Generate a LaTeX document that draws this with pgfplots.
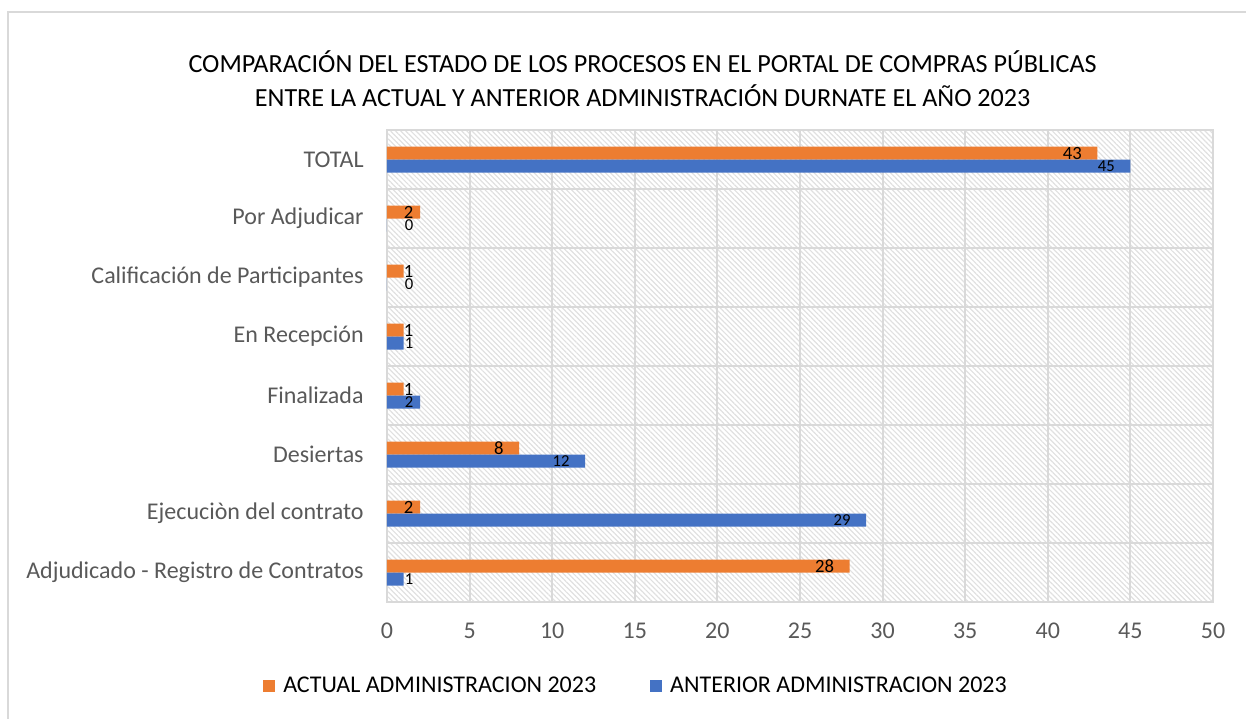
\documentclass[border=0pt]{standalone}
\usepackage{pgfplots}
\pgfplotsset{compat=1.18}
\usepackage{fontspec}
\setmainfont{Carlito}
\usetikzlibrary{patterns.meta}
\definecolor{orng}{HTML}{ED7D31}
\definecolor{blu}{HTML}{4472C4}
\definecolor{grd}{HTML}{D9D9D9}
\definecolor{txt}{HTML}{595959}
\begin{document}
\begin{tikzpicture}
\useasboundingbox (0,0) rectangle (934.5pt,-538.5pt);
\draw[grd, line width=1.5pt] (6pt,-545pt) -- (6pt,-9pt) -- (940pt,-9pt);
\node[font=\fontsize{19.6}{25.5}\selectfont, align=center, text=black] at (482pt,-59pt)
 {COMPARACIÓN DEL ESTADO DE LOS PROCESOS EN EL PORTAL DE COMPRAS PÚBLICAS\\ENTRE LA ACTUAL Y ANTERIOR ADMINISTRACIÓN DURNATE EL AÑO 2023};
\begin{axis}[
 at={(290.25pt,-451.5pt)}, anchor=south west,
 scale only axis, width=619.5pt, height=354pt,
 xbar, bar width=9.75pt,
 xmin=0, xmax=50, ymin=-0.5, ymax=7.5,
 xtick={0,5,...,50},
 ytick={0,...,7},
 yticklabels={Adjudicado - Registro de Contratos, Ejecuciòn del contrato, Desiertas, Finalizada, En Recepción, Calificación de Participantes, Por Adjudicar, TOTAL},
 minor ytick={-0.5,0.5,...,7.5},
 yminorgrids, xmajorgrids,
 grid style={grd, line width=1.5pt}, minor grid style={grd, line width=1.5pt},
 axis line style={grd, line width=1.5pt},
 major tick length=0pt, minor tick length=0pt,
 tick label style={font=\fontsize{18}{20}\selectfont, text=txt},
 xticklabel style={yshift=-12pt},
 yticklabel style={xshift=-14pt},
 /pgf/number format/assume math mode=true,
 axis background/.style={pattern={Lines[angle=-45,distance=2.7pt,line width=0.9pt]}, pattern color=gray!24},
 visualization depends on={rawx \as \xv},
 nodes near coords,
 every node near coord/.append style={anchor=east, inner sep=0pt, text=black,
   xshift={ifthenelse(\xv<5,(1.03-\xv)*12.39+7.2,-11.5)}},
 legend style={draw=none, at={(axis description cs:0.3015,-0.178)}, anchor=center,
   font=\fontsize{18}{20}\selectfont, /tikz/every even column/.append style={column sep=38pt}},
 legend columns=2,
 legend image code/.code={\fill[#1] (0pt,-4.5pt) rectangle (9pt,4.5pt); \path (13.5pt,0pt);},
]
\addplot[fill=orng, draw=none, bar shift=4.875pt, every node near coord/.append style={font=\fontsize{14}{16}\selectfont}]
 coordinates {(28,0) (2,1) (8,2) (1,3) (1,4) (1,5) (2,6) (43,7)};
\addplot[fill=blu, draw=none, bar shift=-4.875pt, every node near coord/.append style={font=\fontsize{12.5}{14}\selectfont}]
 coordinates {(1,0) (29,1) (12,2) (2,3) (1,4) (0,5) (0,6) (45,7)};
\legend{ACTUAL ADMINISTRACION 2023, ANTERIOR ADMINISTRACION 2023}
\end{axis}
\end{tikzpicture}
\end{document}
